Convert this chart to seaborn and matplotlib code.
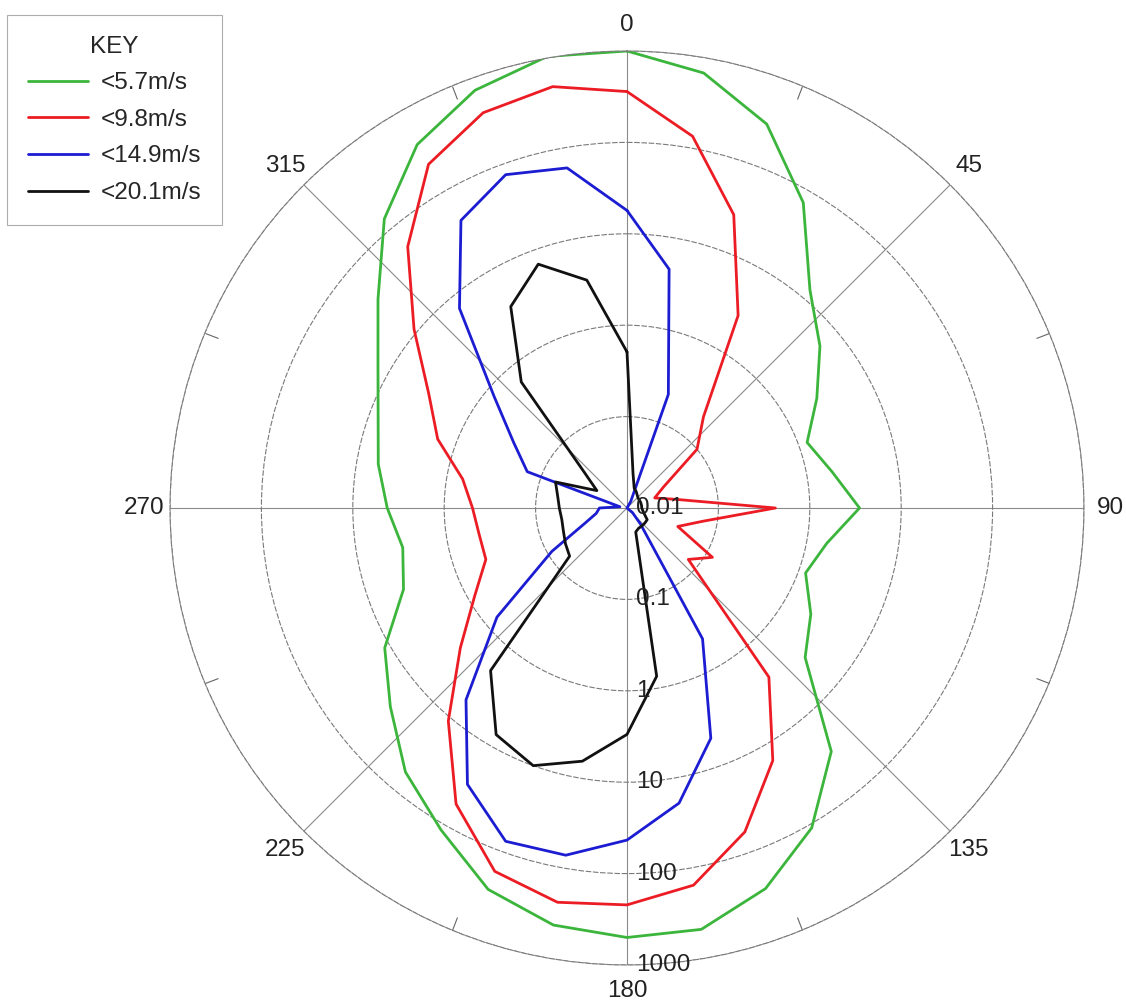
import numpy as np
import pandas as pd
import seaborn as sns
import matplotlib.pyplot as plt
from matplotlib import transforms

# direction (degrees, clockwise from north)
angles = [0, 10, 20, 30, 40, 50, 60, 70, 80, 90, 100, 110,
          120, 130, 140, 150, 160, 170, 180, 190, 200, 210, 220, 230,
          240, 250, 260, 270, 280, 290, 300, 310, 320, 330, 340, 350]

speed_57 = [1000, 680, 295, 72, 13, 5.7, 2.5, 1.25, 1.9, 3.5, 1.66, 1.2,
            2.1, 3.5, 30, 110, 270, 480, 500, 430, 276, 117, 59, 24,
            11.5, 4.0, 3.1, 4.2, 5.8, 7.9, 14, 36, 135, 390, 730, 1040]
speed_98 = [360, 135, 26, 2.7, 0.2, 0.1, 0.029, 0.021, 0.035, 0.42, 0.069, 0.039,
            0.12, 0.075, 2.6, 15.5, 59, 155, 220, 240, 170, 55, 11, 2.4,
            0.84, 0.44, 0.44, 0.49, 0.67, 1.6, 3.2, 11, 54, 220, 400, 480]
speed_149 = [18, 4.5, 0.21, 0.012, 0.01, 0.01, 0.01, 0.01, 0.01, 0.01, 0.01, 0.01,
             0.01, 0.012, 0.017, 0.45, 4.8, 19, 43, 72, 76, 31, 5.5, 0.72,
             0.089, 0.031, 0.022, 0.02, 0.012, 0.145, 0.27, 0.79, 7.1, 43, 76, 60]
speed_201 = [0.51, 0.024, 0.017, 0.016, 0.015, 0.0145, 0.0145, 0.0145, 0.0145, 0.0145, 0.015, 0.016,
             0.018, 0.018, 0.018, 0.018, 0.019, 0.74, 3.0, 6.5, 10, 7.3, 2.1, 0.066,
             0.06, 0.055, 0.053, 0.055, 0.059, 0.068, 0.024, 0.041, 0.63, 3.5, 6.9, 3.4]

series_names = ["<5.7m/s", "<9.8m/s", "<14.9m/s", "<20.1m/s"]
colors = {"<5.7m/s": "#3bb53b", "<9.8m/s": "#ec1c24",
          "<14.9m/s": "#1c1cd2", "<20.1m/s": "#111111"}
r_ticks = [0.01, 0.1, 1, 10, 100, 1000]
r_tick_labels = ["0.01", "0.1", "1", "10", "100", "1000"]

# long table, each series closed back to 0 degrees
rows = []
for name, vals in zip(series_names, [speed_57, speed_98, speed_149, speed_201]):
    for a, v in zip(angles + [360], vals + [vals[0]]):
        rows.append({"theta": np.deg2rad(a), "value": v, "speed": name})
df = pd.DataFrame(rows)

sns.set_style("white")
plt.rcParams["font.family"] = ["Liberation Sans", "DejaVu Sans"]

fig = plt.figure(figsize=(11.26, 10.07), dpi=100)
ax = fig.add_axes([170 / 1126, 42 / 1007, 914 / 1126, 914 / 1007], projection="polar")
ax.set_theta_zero_location("N")
ax.set_theta_direction(-1)

sns.lineplot(data=df, x="theta", y="value", hue="speed", palette=colors,
             hue_order=series_names, sort=False, estimator=None,
             linewidth=2.0, ax=ax)

ax.set_rscale("log")
ax.set_rlim(0.01, 1000)
ax.set_yticks(r_ticks)
ax.set_yticklabels([])
ax.set_xlabel("")
ax.set_ylabel("")

# grid look
ax.set_xticks(np.deg2rad([0, 45, 90, 135, 180, 225, 270, 315]))
ax.set_xticklabels(["0", "45", "90", "135", "180", "225", "270", "315"], fontsize=17.5)
ax.set_xticks(np.deg2rad([22.5, 67.5, 112.5, 157.5, 202.5, 247.5, 292.5, 337.5]), minor=True)
ax.tick_params(axis="x", which="major", length=0, pad=12, colors="#222222")
ax.tick_params(axis="x", which="minor", bottom=False, top=True, length=10, width=0.8,
               direction="in", color="#666666")
ax.xaxis.grid(True, which="major", color="#8a8a8a", linewidth=0.8, linestyle="-")
ax.yaxis.grid(True, color="#7a7a7a", linewidth=0.8, linestyle=(0, (5, 1.5)))
ax.spines["polar"].set_color("#7a7a7a")
ax.spines["polar"].set_linewidth(0.8)
ax.spines["polar"].set_linestyle((0, (5, 1.5)))

# radial labels just right of the 180 line
lab_tr = transforms.offset_copy(ax.transData, fig=fig, x=9, y=0, units="dots")
for rv, txt in zip(r_ticks, r_tick_labels):
    ax.text(np.pi, rv, txt, transform=lab_tr, ha="left", va="center",
            fontsize=17.5, color="#222222", clip_on=False)

leg = ax.legend(loc="upper left", bbox_to_anchor=(7 / 1126, 1 - 15 / 1007),
                bbox_transform=fig.transFigure, title="KEY", fontsize=17.5,
                title_fontsize=17.5, frameon=True, fancybox=False,
                handlelength=2.5, handletextpad=0.5, labelspacing=0.6,
                borderpad=0.85, borderaxespad=0)
leg.get_frame().set_edgecolor("#999999")
leg.get_frame().set_linewidth(0.8)
for line in leg.get_lines():
    line.set_linewidth(2.0)

fig.savefig("out.png", dpi=100, facecolor="white")
